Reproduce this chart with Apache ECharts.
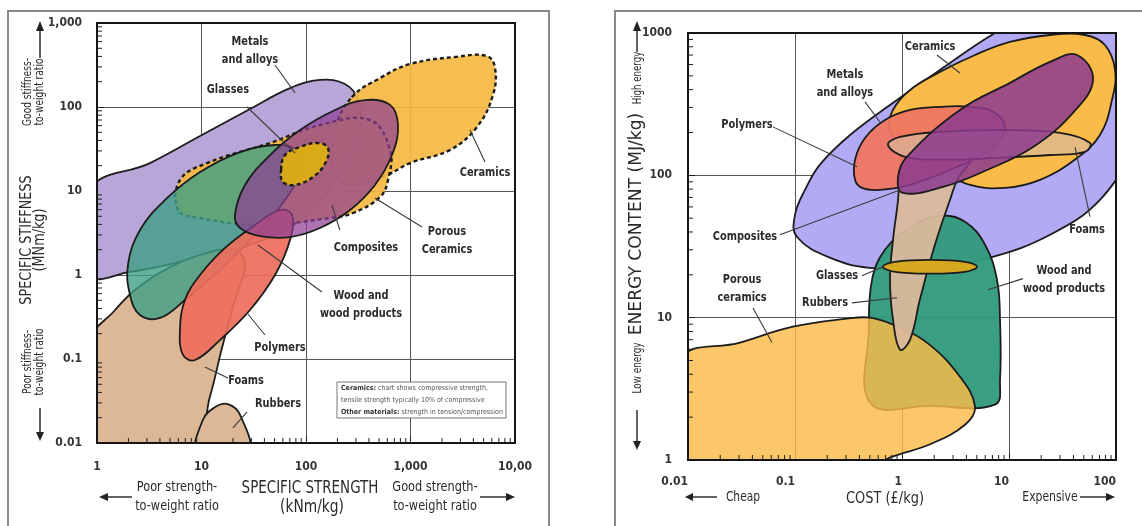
<!DOCTYPE html>
<html>
<head>
<meta charset="utf-8">
<script src="https://cdn.jsdelivr.net/npm/echarts@6/dist/echarts.min.js"></script>
<style>
html, body { margin: 0; padding: 0; background: #fff; }
#main { width: 1142px; height: 526px; }
</style>
</head>
<body>
<div id="main"></div>
<script>
// ---- left chart: specific stiffness vs specific strength ----
var leftXTicks = [1, 10, 100, 1000, 10000];
var leftXLabels = ['1', '10', '100', '1,000', '10,00'];
var leftYTicks = [0.01, 0.1, 1, 10, 100, 1000];
var leftYLabels = ['0.01', '0.1', '1', '10', '100', '1,000'];

// region outlines, [strength kNm/kg, stiffness MNm/kg]
var lMetals = [[0.85,1],[0.85,10.3],[3.21,21.5],[9.68,45.2],[29.1,94.6],[70.3,168],[136,210],[236,188],[315,121],[329,53.2],[211,15.5],[87.7,4.52],[29.1,2.28],[6.22,1.43],[2.07,1.09]];
var lFoams = [[0.85,0.008],[0.85,0.16],[1.49,0.383],[2.31,0.663],[4.48,1.15],[9.68,1.73],[20.9,1.99],[26.1,1.32],[20.9,0.504],[15.7,0.135],[12.0,0.035],[8.2,0.008]];
var lRubbers = [[9.26,0.008],[10.3,0.0188],[13.5,0.0268],[17.9,0.0291],[23.4,0.0216],[27.9,0.008]];
var lCeramics = [[275,131],[511,221],[989,325],[2667,394],[5395,404],[6442,291],[6156,139],[4325,57.8],[2388,30.8],[989,21.5],[596,15.5],[294,11.8],[190,15.5],[190,53.2]];
var lPorous = [[6.0,5.9],[6.22,13.5],[11.3,21.5],[45.3,37.3],[136,61.0],[409,70.0],[637,30.8],[609,13.5],[511,8.49],[282,5.47],[170,4.77],[36.3,3.94],[9.68,4.77]];
var lWood = [[1.98,1.32],[2.58,3.43],[4.48,7.82],[9.68,16.8],[23.4,29.1],[50.5,35.3],[78.5,30.8],[87.7,17.8],[63.0,7.82],[32.5,2.99],[15.0,1.15],[6.95,0.504],[4.01,0.308],[2.58,0.334],[2.07,0.578]];
var lPolymers = [[6.22,0.221],[6.95,0.504],[9.68,1],[16.8,2.10],[32.5,3.94],[56.4,5.94],[73.5,5.18],[70.3,2.61],[50.5,1],[29.1,0.383],[15.0,0.168],[8.67,0.0973],[6.65,0.112]];
var lComposites = [[20.9,5.18],[26.1,11.8],[45.3,26.8],[87.7,53.2],[190,92.1],[367,121],[637,106],[759,61.0],[665,26.8],[457,11.8],[264,5.94],[136,3.63],[70.3,2.83],[36.3,2.91],[23.4,3.63]];
var lGlasses = [[57.7,17.8],[63.0,26.8],[87.7,33.4],[130,37.3],[162,32.5],[155,22.1],[117,14.7],[78.5,11.8],[60.2,12.8]];

var lLabels = [
  ['Metals\nand alloys', 29.1, 464],
  ['Glasses', 17.9, 159],
  ['Composites', 375, 2.10],
  ['Porous\nCeramics', 2234, 2.54],
  ['Ceramics', 5164, 16.4],
  ['Wood and\nwood products', 336, 0.44],
  ['Polymers', 56.4, 0.135],
  ['Foams', 26.7, 0.0547],
  ['Rubbers', 54, 0.0291]
];
var lLeaders = [
  [50.5,316,78.5,147],
  [27.3,100,78.5,28.3],
  [177,6.81,211,3.43],
  [457,8.26,1288,3.73],
  [3707,53.2,5164,22.1],
  [34.7,2.28,142,0.628],
  [27.3,0.353,40.5,0.193],
  [10.8,0.0803,17.9,0.0594],
  [20.0,0.0151,27.3,0.0234]
];

// ---- right chart: energy content vs cost ----
var rightXTicks = [0.01, 0.1, 1, 10, 100];
var rightXLabels = ['0.01', '0.1', '1', '10', '100'];
var rightYTicks = [1, 10, 100, 1000];
var rightYLabels = ['1', '10', '100', '1000'];

// region outlines, [cost £/kg, energy MJ/kg]
var rMetals = [[0.104,37.0],[0.1,52.8],[0.124,79.0],[0.171,119],[0.327,192],[0.772,312],[2.26,550],[7.39,1000],[19.5,1449],[70.8,1849],[168,1571],[208,647],[135,151],[70.8,67.3],[24.2,38.2],[6.64,26.4],[1.83,22.4],[0.502,22.4],[0.212,26.4]];
var rCeramics = [[0.772,208],[0.824,288],[1.19,398],[2.26,532],[4.81,701],[10.2,865],[24.2,968],[51.3,968],[78.8,824],[98.0,550],[91.8,339],[70.8,192],[41.4,129],[19.5,93.0],[9.18,81.6],[4.33,85.7],[2.26,109],[1.19,146]];
var rWood = [[0.51,2.5],[0.49,8.24],[0.525,18.5],[0.693,30.0],[1.19,42.9],[2.26,52.0],[3.88,47.2],[5.97,32.5],[7.72,18.5],[8.24,9.68],[8.24,3.67],[7.39,2.45],[1.83,2.40]];
var rPorous = [[0.0085,0.85],[0.0085,5.07],[0.0306,6.68],[0.0957,8.64],[0.306,9.84],[0.502,10],[0.824,8.93],[1.71,6.68],[3.48,3.85],[4.81,2.37],[3.88,1.77],[1.83,1.29],[0.824,1.06],[0.405,0.85]];
var rRubbers = [[0.958,5.96],[0.824,9.68],[0.772,18.5],[0.824,35.2],[0.918,67.3],[0.958,109],[1.07,151],[1.83,177],[3.48,164],[4.33,129],[3.34,96.0],[2.81,67.3],[2.03,32.5],[1.47,13.4],[1.19,7.01]];
var rFoams = [[0.739,164],[0.958,186],[2.26,202],[8.24,208],[30.0,199],[57.1,169],[51.3,146],[24.2,139],[8.24,133],[2.81,129],[1.07,135]];
var rPolymers = [[0.364,93.0],[0.364,129],[0.451,183],[0.693,245],[1.19,288],[2.26,303],[4.33,303],[7.39,275],[9.18,208],[6.64,151],[2.81,109],[1.19,85.7],[0.623,79.0],[0.423,81.6]];
var rComposites = [[43.2,701],[61.0,468],[39.6,275],[16.8,158],[6.23,109],[2.42,82.9],[1.02,75.3],[0.918,97.6],[1.11,135],[3.48,288],[10.2,446],[24.2,626]];
var rGlasses = [[0.664,22.8],[0.861,24.7],[1.83,25.5],[3.88,24.7],[5.02,22.8],[3.88,21.0],[1.83,20.4],[0.861,21.0]];

var rLabels = [
  ['Ceramics', 1.83, 797],
  ['Metals\nand alloys', 0.293, 438],
  ['Polymers', 0.0356, 226],
  ['Composites', 0.0341, 37.0],
  ['Foams', 53.6, 41.5],
  ['Glasses', 0.247, 19.7],
  ['Rubbers', 0.191, 12.7],
  ['Porous\nceramics', 0.032, 16.0],
  ['Wood and\nwood products', 32.7, 18.5]
];
var rLeaders = [
  [2.12,701,3.48,524],
  [0.451,328,0.623,237],
  [0.0622,219,0.380,115],
  [0.0724,38.2,0.958,79.0],
  [41.4,158,57.1,51.2],
  [0.423,19.7,0.664,22.8],
  [0.341,12.7,0.898,13.8],
  [0.0405,11.7,0.0609,6.68],
  [13.5,18.8,6.36,15.7]
];

var minorSteps = [2, 3, 4, 5, 6, 7, 8, 9];

var FONT = '"DejaVu Sans Condensed", "DejaVu Sans", sans-serif';
var INK = '#2b2b2b';

function tickFormatter(ticks, labels) {
  return function (v) {
    for (var i = 0; i < ticks.length; i++) {
      if (Math.abs(Math.log10(v) - Math.log10(ticks[i])) < 1e-6) return labels[i];
    }
    return '';
  };
}

function minorValues(decades) {
  var out = [];
  decades.forEach(function (d) {
    minorSteps.forEach(function (s) { out.push(d * s); });
  });
  return out;
}

function region(grid, pts, color, alpha, dashed, z) {
  return {
    type: 'custom', xAxisIndex: grid, yAxisIndex: grid,
    clip: true, silent: true, z: z,
    data: pts,
    renderItem: function (params, api) {
      if (params.dataIndex !== 0) return;
      var poly = pts.map(function (p) { return api.coord(p); });
      return {
        type: 'polygon',
        shape: { points: poly, smooth: 0.4 },
        style: {
          fill: echarts.color.modifyAlpha(color, alpha),
          stroke: '#1c1c1c',
          lineWidth: dashed ? 2.4 : 1.8,
          lineDash: dashed ? [4, 3] : null
        }
      };
    }
  };
}

function leaders(grid, rows) {
  return {
    type: 'custom', xAxisIndex: grid, yAxisIndex: grid, silent: true, z: 30,
    data: rows,
    renderItem: function (params, api) {
      var a = api.coord([api.value(0), api.value(1)]);
      var b = api.coord([api.value(2), api.value(3)]);
      return { type: 'line', shape: { x1: a[0], y1: a[1], x2: b[0], y2: b[1] },
        style: { stroke: '#3a3a3a', lineWidth: 1.1 } };
    }
  };
}

function labels(grid, rows) {
  return {
    type: 'custom', xAxisIndex: grid, yAxisIndex: grid, silent: true, z: 31,
    data: rows.map(function (r) { return [r[1], r[2]]; }),
    renderItem: function (params, api) {
      var p = api.coord([api.value(0), api.value(1)]);
      return { type: 'text', x: p[0], y: p[1], scaleX: 0.84,
        style: { text: rows[params.dataIndex][0], fill: INK,
          font: 'bold 13px ' + FONT, align: 'center', verticalAlign: 'middle', lineHeight: 18 } };
    }
  };
}

function minorTicks(grid, values, dir, fixed) {
  return {
    type: 'custom', xAxisIndex: grid, yAxisIndex: grid, silent: true, z: 40,
    data: values.map(function (v) { return dir === 'y' ? [fixed, v] : [v, fixed]; }),
    renderItem: function (params, api) {
      var p = api.coord([api.value(0), api.value(1)]);
      var shape = dir === 'y'
        ? { x1: p[0], y1: p[1], x2: p[0] + 5, y2: p[1] }
        : { x1: p[0], y1: p[1], x2: p[0], y2: p[1] - 5 };
      return { type: 'line', shape: shape, style: { stroke: '#222', lineWidth: 1 } };
    }
  };
}

function axisLabelStyle(extra) {
  var s = { color: '#333', fontFamily: FONT, fontWeight: 'bold', fontSize: 12 };
  for (var k in extra) s[k] = extra[k];
  return s;
}

var splitStyle = { show: true, lineStyle: { color: '#555', width: 1 } };
var tickStyle = { show: true, inside: true, length: 7, lineStyle: { color: '#222', width: 1 } };

// rotated text; scaleX works along the reading direction
function vtext(x, y, text, size, lh, sx, weight) {
  return { type: 'text', x: x, y: y, rotation: Math.PI / 2, scaleX: sx, z: 60,
    style: { text: text, fill: INK, font: (weight || 'normal') + ' ' + size + 'px ' + FONT,
      align: 'center', verticalAlign: 'middle', lineHeight: lh } };
}
function htext(x, y, text, size, lh, sx, weight) {
  return { type: 'text', x: x, y: y, scaleX: sx, z: 60,
    style: { text: text, fill: INK, font: (weight || 'normal') + ' ' + size + 'px ' + FONT,
      align: 'center', verticalAlign: 'middle', lineHeight: lh } };
}
function arrowLine(x1, y1, x2, y2) {
  return { type: 'line', z: 60, shape: { x1: x1, y1: y1, x2: x2, y2: y2 }, style: { stroke: '#222', lineWidth: 1.4 } };
}
function head(pts) {
  return { type: 'polygon', z: 60, shape: { points: pts }, style: { fill: '#222' } };
}

var chart = echarts.init(document.getElementById('main'));

var option = {
  backgroundColor: '#fff',
  animation: false,
  grid: [
    { left: 97, top: 23, width: 418, height: 420, show: true, z: 50,
      backgroundColor: 'rgba(0,0,0,0)', borderColor: '#151515', borderWidth: 2 },
    { left: 688, top: 33, width: 428, height: 427, show: true, z: 50,
      backgroundColor: 'rgba(0,0,0,0)', borderColor: '#151515', borderWidth: 2 }
  ],
  xAxis: [
    { type: 'log', logBase: 10, gridIndex: 0, min: 1, max: 10000,
      axisLine: { show: false }, axisTick: tickStyle, splitLine: splitStyle,
      axisLabel: axisLabelStyle({ margin: 18, formatter: tickFormatter(leftXTicks, leftXLabels) }) },
    { type: 'log', logBase: 10, gridIndex: 1, min: 0.01, max: 100,
      axisLine: { show: false }, axisTick: tickStyle, splitLine: splitStyle,
      axisLabel: axisLabelStyle({ margin: 16, align: 'right', formatter: tickFormatter(rightXTicks, rightXLabels) }) }
  ],
  yAxis: [
    { type: 'log', logBase: 10, gridIndex: 0, min: 0.01, max: 1000,
      axisLine: { show: false }, axisTick: tickStyle, splitLine: splitStyle,
      axisLabel: axisLabelStyle({ margin: 15, formatter: tickFormatter(leftYTicks, leftYLabels) }) },
    { type: 'log', logBase: 10, gridIndex: 1, min: 1, max: 1000,
      axisLine: { show: false }, axisTick: tickStyle, splitLine: splitStyle,
      axisLabel: axisLabelStyle({ margin: 16, formatter: tickFormatter(rightYTicks, rightYLabels) }) }
  ],
  series: [
    region(0, lMetals, '#b9a6d8', 1, false, 3),
    region(0, lFoams, '#dcb896', 1, false, 4),
    region(0, lRubbers, '#dcb896', 1, false, 4),
    region(0, lCeramics, '#f5b942', 0.92, true, 5),
    region(0, lPorous, '#f5b942', 0.92, true, 5),
    region(0, lWood, '#3f9f86', 0.8, false, 6),
    region(0, lPolymers, '#ee6e5b', 0.92, false, 7),
    region(0, lComposites, '#8e3f93', 0.72, false, 8),
    region(0, lGlasses, '#dcae14', 0.95, true, 9),
    leaders(0, lLeaders),
    labels(0, lLabels),
    minorTicks(0, minorValues([0.01, 0.1, 1, 10, 100]), 'y', 1),
    minorTicks(0, minorValues([1, 10, 100, 1000]), 'x', 0.01),

    region(1, rMetals, '#b3aaf6', 1, false, 3),
    region(1, rCeramics, '#fbbb48', 1, false, 4),
    region(1, rWood, '#2f9a79', 0.95, false, 5),
    region(1, rPorous, '#fbbb48', 0.82, false, 6),
    region(1, rRubbers, '#dab99c', 0.95, false, 7),
    region(1, rPolymers, '#ef7662', 0.95, false, 8),
    region(1, rFoams, '#dab99c', 0.7, false, 9),
    region(1, rComposites, '#8b3a8e', 0.85, false, 10),
    region(1, rGlasses, '#d6a820', 1, false, 11),
    leaders(1, rLeaders),
    labels(1, rLabels),
    minorTicks(1, minorValues([1, 10, 100]), 'y', 0.01),
    minorTicks(1, minorValues([0.01, 0.1, 1, 10]), 'x', 1)
  ],
  graphic: [
    { type: 'rect', z: 1, shape: { x: 8, y: 11, width: 541, height: 530 }, style: { fill: 'none', stroke: '#8a8a8a', lineWidth: 2 } },
    { type: 'rect', z: 1, shape: { x: 615, y: 11, width: 530, height: 530 }, style: { fill: 'none', stroke: '#8a8a8a', lineWidth: 2 } },

    // left chart axis titles
    arrowLine(40, 30, 40, 58), head([[36, 31], [44, 31], [40, 21]]),
    vtext(34, 92, 'Good stiffness-\nto-weight ratio', 12, 12, 0.84),
    vtext(34, 240, 'SPECIFIC STIFFNESS\n(MNm/kg)', 15, 13, 0.95),
    vtext(34, 362, 'Poor stiffness-\nto-weight ratio', 12, 12, 0.84),
    arrowLine(40, 408, 40, 433), head([[36, 432], [44, 432], [40, 441]]),
    htext(177, 497, 'Poor strength-\nto-weight ratio', 14, 19, 0.9),
    arrowLine(106, 497, 132, 497), head([[108, 493], [108, 501], [99, 497]]),
    htext(310, 489, 'SPECIFIC STRENGTH', 17, 19, 0.88),
    htext(312, 508, '(kNm/kg)', 17, 19, 0.9),
    htext(435, 497, 'Good strength-\nto-weight ratio', 14, 19, 0.9),
    arrowLine(480, 497, 508, 497), head([[506, 493], [506, 501], [515, 497]]),

    // note box
    { type: 'rect', z: 45, shape: { x: 337, y: 382, width: 169, height: 36 }, style: { fill: '#fff', stroke: '#777', lineWidth: 1 } },
    { type: 'text', z: 46, x: 341, y: 388, style: { text: '{b|Ceramics:} chart shows compressive strength,', fill: '#555', font: '7px ' + FONT, verticalAlign: 'middle', rich: { b: { fontWeight: 'bold', fontSize: 7, fontFamily: FONT, fill: '#333' } } } },
    { type: 'text', z: 46, x: 341, y: 400, style: { text: 'tensile strength typically 10% of compressive', fill: '#555', font: '7px ' + FONT, verticalAlign: 'middle' } },
    { type: 'text', z: 46, x: 341, y: 412, style: { text: '{b|Other materials:} strength in tension/compression', fill: '#555', font: '7px ' + FONT, verticalAlign: 'middle', rich: { b: { fontWeight: 'bold', fontSize: 7, fontFamily: FONT, fill: '#333' } } } },

    // right chart axis titles
    arrowLine(637, 30, 637, 52), head([[633, 31], [641, 31], [637, 21]]),
    vtext(638, 78, 'High energy', 12, 12, 0.8),
    vtext(637, 224, 'ENERGY CONTENT (MJ/kg)', 17, 17, 1.12),
    vtext(638, 368, 'Low energy', 12, 12, 0.82),
    arrowLine(637, 410, 637, 442), head([[633, 441], [641, 441], [637, 450]]),
    arrowLine(690, 497, 717, 497), head([[693, 493], [693, 501], [685, 497]]),
    htext(743, 497, 'Cheap', 14, 16, 0.85),
    htext(885, 499, 'COST (£/kg)', 16, 16, 0.9),
    htext(1050, 497, 'Expensive', 14, 16, 0.86),
    arrowLine(1080, 497, 1108, 497), head([[1106, 493], [1106, 501], [1115, 497]])
  ]
};

chart.setOption(option);
</script>
</body>
</html>
